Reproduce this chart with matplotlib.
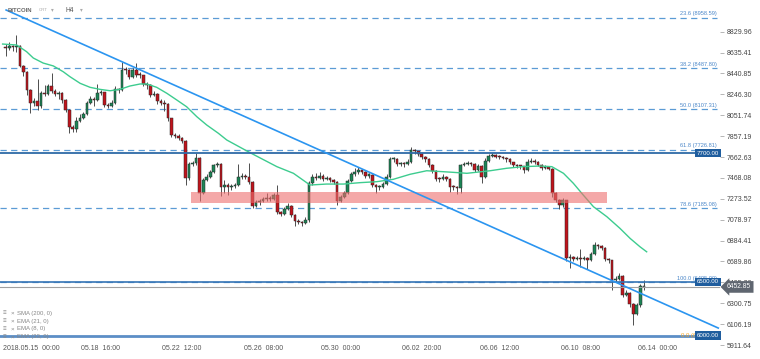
import numpy as np
import matplotlib.pyplot as plt

plt.rcParams['font.family'] = ['Liberation Sans', 'DejaVu Sans']

# H4 candles, bar 0 = 2018.05.15 00:00 (open of the first bar is first_open, then previous close)
first_bar = -5
first_open = 8690
closes = [
    8680, 8700, 8690, 8700, 8510, 8450, 8290, 8165, 8185, 8140,
    8259, 8250, 8324, 8280, 8250, 8262, 8190, 8100, 7940, 7925,
    8000, 8030, 8060, 8170, 8200, 8195, 8260, 8265, 8150, 8140,
    8170, 8300, 8290, 8473, 8470, 8410, 8470, 8430, 8425, 8340,
    8330, 8240, 8250, 8180, 8170, 8160, 8025, 7868, 7860, 7840,
    7815, 7465, 7600, 7605, 7650, 7330, 7450, 7478, 7520, 7590,
    7600, 7380, 7400, 7380, 7390, 7400, 7480, 7490, 7480, 7430,
    7210, 7240, 7250, 7270, 7280, 7270, 7310, 7150, 7130, 7180,
    7210, 7120, 7070, 7060, 7050, 7080, 7420, 7480, 7470, 7490,
    7460, 7470, 7450, 7430, 7250, 7290, 7330, 7440, 7500, 7520,
    7540, 7520, 7490, 7495, 7400, 7380, 7385, 7410, 7480, 7640,
    7640, 7600, 7600, 7595, 7620, 7730, 7715, 7690, 7660, 7640,
    7590, 7530, 7460, 7455, 7480, 7460, 7385, 7380, 7370, 7590,
    7600, 7610, 7600, 7540, 7580, 7480, 7630, 7670, 7680, 7665,
    7660, 7655, 7640, 7615, 7590, 7580, 7575, 7540, 7620, 7625,
    7620, 7590, 7560, 7570, 7555, 7330, 7260, 7220, 7260, 6720,
    6730, 6710, 6720, 6715, 6720, 6700, 6760, 6840, 6830, 6820,
    6710, 6700, 6520, 6530, 6550, 6380, 6400, 6290, 6200, 6280,
    6460, 6452.85,
]
highs = [
    8720, 8730, 8710, 8800, 8710, 8520, 8460, 8300, 8210, 8390,
    8280, 8330, 8340, 8445, 8300, 8280, 8270, 8200, 8110, 7960,
    8040, 8060, 8080, 8180, 8230, 8220, 8340, 8290, 8270, 8170,
    8190, 8320, 8310, 8550, 8500, 8480, 8490, 8540, 8450, 8430,
    8360, 8340, 8280, 8260, 8200, 8190, 8170, 8030, 7890, 7880,
    7850, 7820, 7620, 7630, 7700, 7660, 7470, 7500, 7540, 7600,
    7620, 7610, 7450, 7420, 7410, 7420, 7600, 7510, 7500, 7610,
    7440, 7260, 7270, 7290, 7330, 7300, 7330, 7400, 7160, 7200,
    7230, 7215, 7130, 7090, 7070, 7100, 7440, 7500, 7510, 7520,
    7500, 7490, 7480, 7460, 7440, 7310, 7350, 7460, 7520, 7560,
    7570, 7550, 7530, 7510, 7500, 7410, 7400, 7430, 7500, 7660,
    7660, 7650, 7620, 7615, 7640, 7760, 7740, 7720, 7700, 7670,
    7650, 7600, 7540, 7480, 7500, 7490, 7470, 7400, 7390, 7600,
    7620, 7630, 7620, 7610, 7600, 7590, 7650, 7690, 7700, 7690,
    7680, 7670, 7660, 7650, 7620, 7600, 7590, 7580, 7640, 7650,
    7640, 7630, 7600, 7590, 7580, 7560, 7340, 7270, 7280, 7265,
    6760, 6740, 6740, 6810, 6740, 6730, 6780, 6870, 6850, 6840,
    6825, 6720, 6705, 6550, 6580, 6560, 6420, 6410, 6300, 6300,
    6480, 6520,
]
lows = [
    8600, 8660, 8650, 8640, 8500, 8420, 8240, 8075, 8140, 8100,
    8120, 8230, 8240, 8260, 8230, 8200, 8170, 8080, 7885, 7900,
    7900, 7990, 8020, 8050, 8160, 8140, 8180, 8240, 8130, 8120,
    8130, 8160, 8260, 8280, 8440, 8390, 8400, 8410, 8400, 8320,
    8300, 8220, 8230, 8160, 8150, 8090, 8000, 7850, 7840, 7820,
    7790, 7400, 7450, 7580, 7590, 7250, 7320, 7440, 7470, 7510,
    7570, 7300, 7330, 7310, 7360, 7370, 7390, 7460, 7460, 7410,
    7190, 7200, 7220, 7240, 7250, 7250, 7260, 7130, 7110, 7120,
    7170, 7100, 7020, 7040, 7020, 7040, 7060, 7400, 7450, 7460,
    7440, 7450, 7430, 7410, 7220, 7240, 7280, 7320, 7430, 7490,
    7500, 7500, 7470, 7470, 7380, 7330, 7360, 7370, 7400, 7470,
    7620, 7580, 7580, 7570, 7590, 7610, 7690, 7670, 7640, 7620,
    7570, 7510, 7440, 7430, 7450, 7440, 7340, 7360, 7318, 7330,
    7580, 7590, 7580, 7520, 7530, 7420, 7470, 7620, 7660, 7650,
    7640, 7640, 7620, 7600, 7570, 7560, 7550, 7510, 7530, 7610,
    7600, 7580, 7540, 7550, 7540, 7290, 7240, 7180, 7200, 6690,
    6630, 6690, 6700, 6640, 6700, 6620, 6690, 6750, 6810, 6800,
    6690, 6680, 6420, 6500, 6520, 6360, 6370, 6270, 6100, 6190,
    6270, 6420,
]

# moving average line
ema_bars = [-5.9, -1.9, 0.9, 2.8, 5.6, 8.5, 11.3, 13.2, 16.1, 18.9, 21.7, 24.6,
            27.4, 30.2, 33.1, 35, 37.8, 40.7, 43.5, 46.3, 49.2, 52, 55.3, 57.7,
            64.3, 71.9, 76.6, 81.3, 86, 90.8, 95.5, 100.2, 104.9, 109.7, 114.4,
            119.1, 122, 125.8, 132.4, 137.1, 141.8, 146.6, 149.9, 153.2, 156,
            158.8, 161.7, 165.5, 169.2, 172.1, 174.9, 176.8]
ema_vals = [8715, 8706, 8644, 8585, 8538, 8511, 8457, 8411, 8349, 8312, 8293, 8280,
            8293, 8324, 8343, 8343, 8312, 8256, 8194, 8131, 8038, 7961, 7884, 7821,
            7703, 7573, 7511, 7402, 7411, 7411, 7424, 7433, 7455, 7502, 7535,
            7526, 7520, 7511, 7535, 7558, 7573, 7579, 7573, 7511, 7418,
            7309, 7200, 7107, 6999, 6905, 6827, 6780]

fib_levels = ['23.6', '38.2', '50.0', '61.8', '78.6', '100.0']
fib_prices = [8958.59, 8487.80, 8107.31, 7726.81, 7185.08, 6495.00]
level_prices = [7700, 6500, 6000]
last_price = 6452.85

zone_bars = [47.5, 165.5]
zone_prices = [7232, 7341]
trend_bars = [-4.9, 197.1]
trend_prices = [9032, 6070]

price_ticks = [8829.96, 8635.41, 8440.85, 8246.30, 8051.74, 7857.19, 7662.63, 7468.08,
               7273.52, 7078.97, 6884.41, 6689.86, 6495.30, 6300.75, 6106.19, 5911.64]
time_bars = [22, 45, 68, 90, 113, 135, 158, 180]
time_labels = ['05.18  16:00', '05.22  12:00', '05.26  08:00', '05.30  00:00',
               '06.02  20:00', '06.06  12:00', '06.10  08:00', '06.14  00:00']
first_label = '2018.05.15  00:00'
legend_items = ['SMA (200, 0)', 'EMA (21, 0)', 'EMA (8, 0)', 'EMA (33, 0)']

bars = np.arange(first_bar, first_bar + len(closes))
c = np.array(closes, dtype=float)
h = np.array(highs, dtype=float)
l = np.array(lows, dtype=float)
o = np.concatenate([[first_open], c[:-1]])

fig = plt.figure(figsize=(7.6, 3.59), dpi=100)
ax = fig.add_axes([0, 0, 720 / 760, 1])
ax.set_xlim(-6.64, 197.6)
ax.set_ylim(5781.6, 9125.2)
for s in ax.spines.values():
    s.set_visible(False)

# candles
cols = np.where(c >= o, '#1c8556', '#c0141c').astype(object)
cols[-1] = '#9a9a9a'
ax.vlines(bars, l, h, color='#4d4d4d', lw=0.7, zorder=2)
ax.bar(bars, np.maximum(np.abs(c - o), 10), bottom=np.minimum(o, c), width=0.74,
       color=cols, edgecolor='#262626', linewidth=0.35, zorder=3)

ax.plot(ema_bars, ema_vals, color='#3dcc8f', lw=1.0, zorder=4)

# fib levels
for lv, p in zip(fib_levels, fib_prices):
    ax.axhline(p, xmin=0, xmax=717 / 720, color='#5b9bd5', lw=0.9, ls=(0, (5, 3.5)), zorder=1)
    ax.annotate(f'{lv} ({p:.2f})', (196.8, p), xytext=(0, 1.2), textcoords='offset points',
                ha='right', va='bottom', fontsize=4.1, color='#4a86c8', zorder=5)
ax.annotate('0.0 (6000.00)', (196.8, 6000), xytext=(0, 0), textcoords='offset points',
            ha='right', va='center', fontsize=4.3, color='#f5a623', zorder=5)

# horizontal levels
ax.axhline(7700, color='#2e6aa6', lw=1.3, zorder=4)
ax.axhline(6500, color='#3574b5', lw=1.2, zorder=4)
ax.axhline(6000, color='#5c8ec6', lw=2.0, zorder=4)
ax.axhline(last_price, color='#a0a0a0', lw=0.8, zorder=4)

# support/resistance zone and trendline
ax.fill_between(zone_bars, zone_prices[0], zone_prices[1], color='#ee6e6e', alpha=0.6,
                lw=0, zorder=5)
ax.plot(trend_bars, trend_prices, color='#2b95f0', lw=1.2, zorder=6)

# price boxes
for p in level_prices:
    ax.text(197.3, p, f'{p:.2f}', ha='right', va='center', fontsize=4.4, color='white', zorder=7,
            bbox=dict(boxstyle='square,pad=0.3', fc='#1f5d9e', ec='none'))
ax.text(199.6, last_price, f'{last_price:.2f}', ha='left', va='center', fontsize=4.8,
        color='white', zorder=7, clip_on=False,
        bbox=dict(boxstyle='larrow,pad=0.35', fc='#5f6670', ec='none'))

# axes text
ax.yaxis.tick_right()
ax.set_yticks(price_ticks)
ax.set_yticklabels([f'{v:.2f}' for v in price_ticks])
ax.tick_params(axis='y', length=3, width=0.6, color='#aaaaaa', pad=2, labelsize=5,
               labelcolor='#444444')
ax.set_xticks([])
ty = 1 - 348 / 359
ax.text(3 / 720, ty, first_label, transform=ax.transAxes, ha='left', va='center',
        fontsize=5, color='#555555')
for b, lab in zip(time_bars, time_labels):
    ax.text(b, ty, lab, transform=ax.get_xaxis_transform(), ha='center', va='center',
            fontsize=5, color='#555555')

fig.text(8 / 760, 1 - 10 / 359, 'BITCOIN', fontsize=4.3, weight='bold', color='#666666', va='center')
fig.text(39 / 760, 1 - 10 / 359, 'CRT', fontsize=3.2, color='#aaaaaa', va='center')
fig.text(51 / 760, 1 - 10 / 359, '▾', fontsize=4, color='#aaaaaa', va='center')
fig.text(66 / 760, 1 - 10 / 359, 'H4', fontsize=4.8, color='#555555', va='center')
fig.text(80 / 760, 1 - 10 / 359, '▾', fontsize=4, color='#aaaaaa', va='center')

for k, item in enumerate(legend_items):
    y = 1 - (313.3 + 7.8 * k) / 359
    fig.text(3 / 760, y, '≡', fontsize=4.5, color='#888888', va='center')
    fig.text(11 / 760, y, '×', fontsize=4.5, color='#888888', va='center')
    fig.text(17 / 760, y, item, fontsize=4.3, color='#888888', va='center')

fig.savefig('out.png', dpi=100)
